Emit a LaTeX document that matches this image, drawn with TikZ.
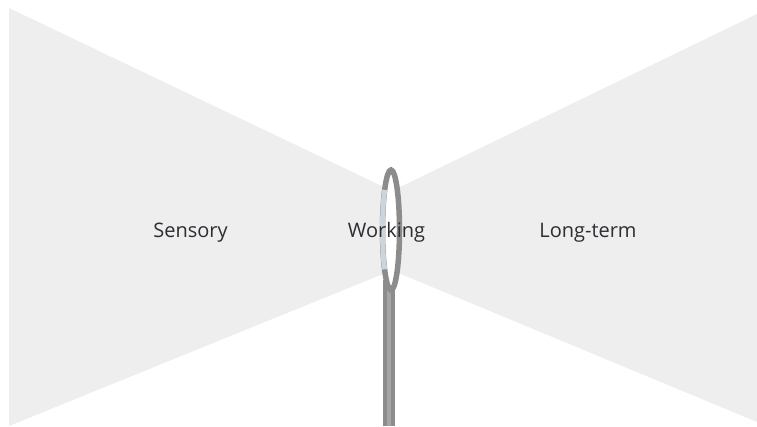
\documentclass[tikz,border=0pt]{standalone}
\usepackage{fontspec}
\setmainfont{Open Sans}
\usepackage{xcolor}
\definecolor{ink}{RGB}{45,45,50}
\definecolor{wing}{RGB}{238,238,238}
\definecolor{steel}{RGB}{140,140,140}
\definecolor{shine}{RGB}{165,165,165}
\definecolor{thread}{RGB}{204,212,220}
\tikzset{
  store/.style={font=\fontsize{20}{24}\selectfont,text=ink,inner sep=0pt,anchor=base},
  wingshape/.style={fill=wing,draw=none},
  eyering/.style={draw=steel,line width=5.5pt},
}
\begin{document}
\begin{tikzpicture}[x=1pt,y=-1pt]
\useasboundingbox (0,0) rectangle (757,426);
% memory wings
\fill[wingshape] (9,8) -- (388,189) -- (388,272) -- (9,426) -- cycle;
\fill[wingshape] (757,14) -- (396,189) -- (396,272) -- (757,422) -- cycle;
% needle shank
\fill[steel] (383,280) rectangle (395,426);
\fill[shine] (387,280) rectangle (391,426);
% needle eye
\draw[eyering,fill=white] (391,230) ellipse [x radius=8.5,y radius=60];
\draw[thread,line width=5pt] (391,230) ++(139:8.5 and 60) arc [start angle=139,end angle=222,x radius=8.5,y radius=60];
% labels
\node[store] (sensory) at (190.5,237) {Sensory};
\node[store] (working) at (386.5,237) {Working};
\node[store] (longterm) at (588,237) {Long-term};
\end{tikzpicture}
\end{document}
